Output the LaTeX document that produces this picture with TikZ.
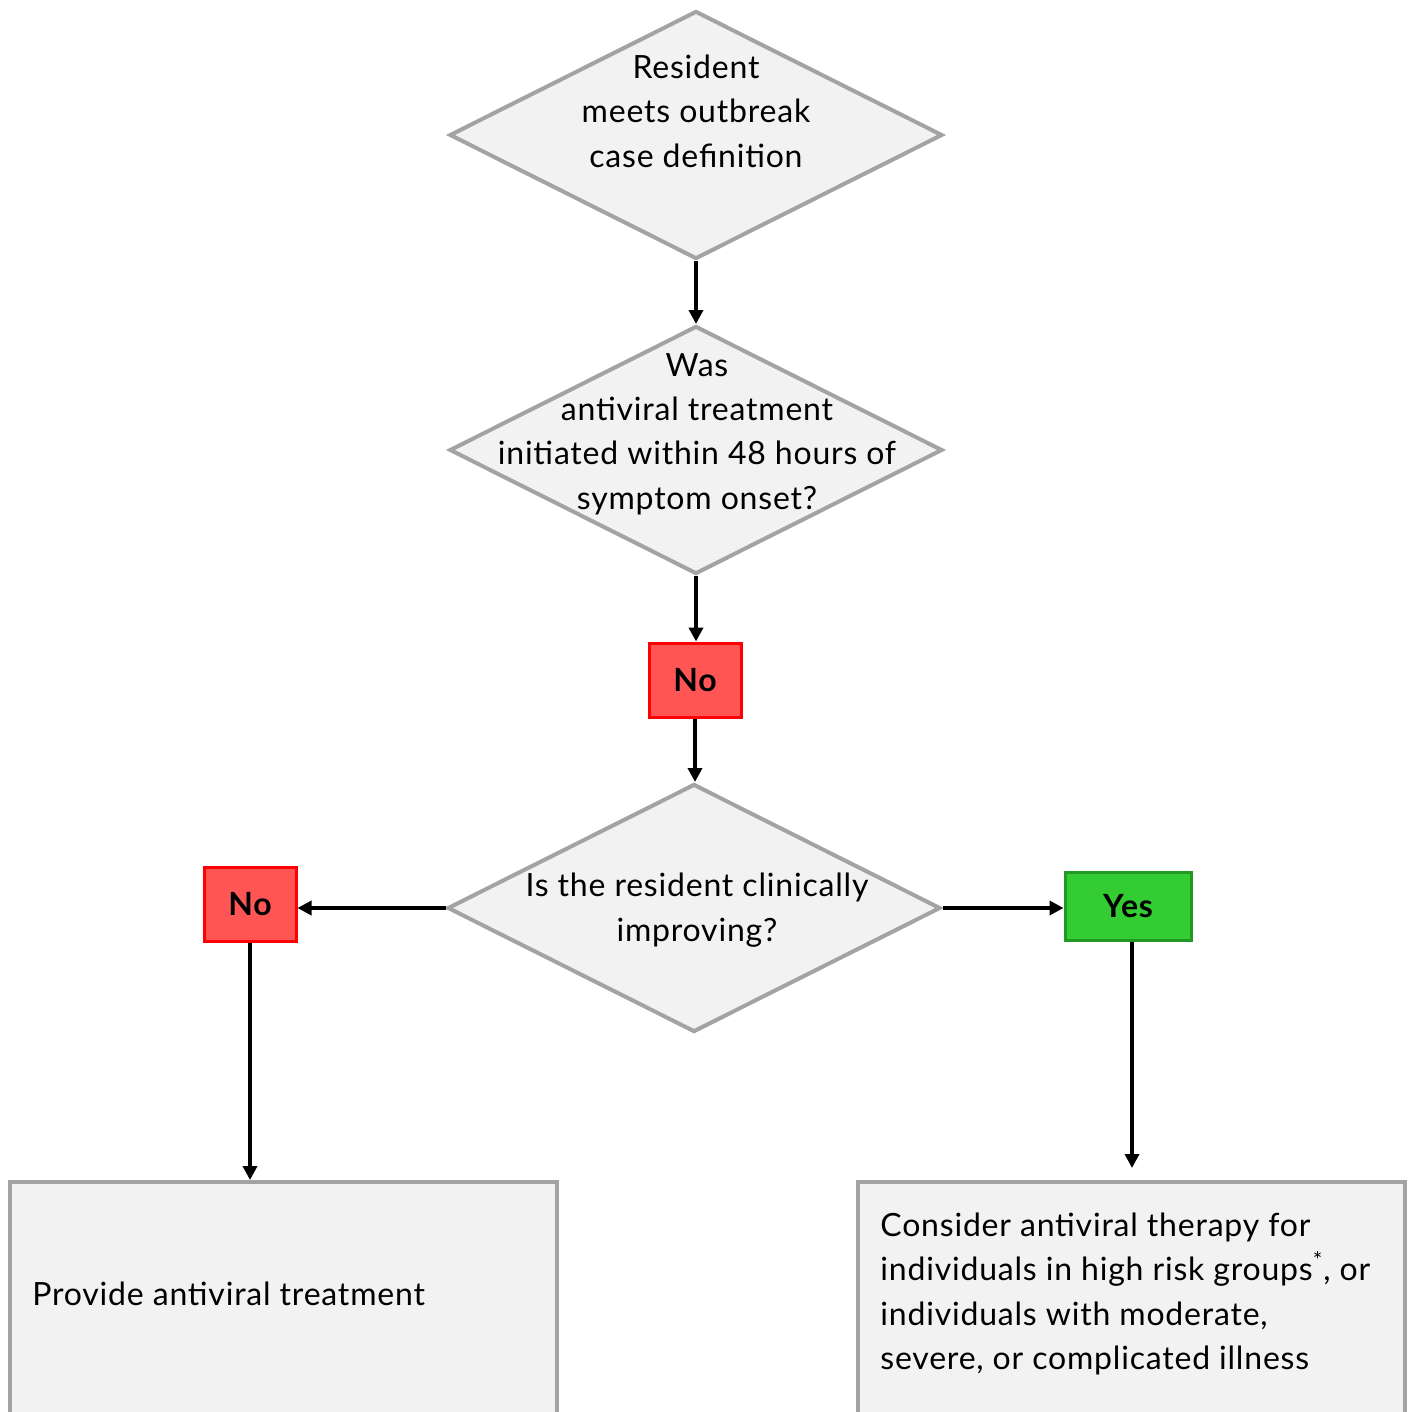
\documentclass[tikz,border=0pt]{standalone}
\usepackage{fontspec}
\setmainfont{Lato}
\usepackage{tikz}
\usetikzlibrary{arrows.meta,positioning,shapes.geometric,calc}
\definecolor{boxgray}{RGB}{242,242,242}
\definecolor{edgegray}{RGB}{163,163,163}
\definecolor{nofill}{RGB}{255,85,85}
\definecolor{noedge}{RGB}{255,0,0}
\definecolor{yesfill}{RGB}{51,204,51}
\definecolor{yesedge}{RGB}{34,153,34}
\newfontfamily\flowfont[LetterSpace=2.5]{Lato}

\begin{document}
\begin{tikzpicture}[x=0.5pt,y=-0.5pt,>={Triangle[length=7pt,width=7pt]}]
\tikzstyle{decision}=[diamond,draw=edgegray,line width=2pt,fill=boxgray,minimum width=246.5pt,minimum height=124pt,inner sep=0pt]
\tikzstyle{dtext}=[align=center,font=\flowfont\fontsize{16}{22.2}\selectfont,inner sep=0pt]
\tikzstyle{nobox}=[draw=noedge,line width=1.5pt,fill=nofill,minimum width=46pt,minimum height=37pt,font=\flowfont\fontsize{16}{18}\selectfont\bfseries]
\tikzstyle{yesbox}=[draw=yesedge,line width=1.5pt,fill=yesfill,minimum width=63pt,minimum height=34pt,font=\flowfont\fontsize{16}{18}\selectfont\bfseries]
\tikzstyle{action}=[draw=edgegray,line width=2pt,fill=boxgray,minimum width=273.5pt,minimum height=130pt,anchor=north,inner sep=0pt]
\tikzstyle{atext}=[align=left,anchor=west,font=\flowfont\fontsize{16}{22.2}\selectfont,inner sep=0pt]
\tikzstyle{arr}=[->,line width=2pt,black]

\clip (0,0) rectangle (1408,1412);
\fill[white] (0,0) rectangle (1408,1412);

% decisions
\node[decision] (d1) at (696,135) {};
\node[decision] (d2) at (696,450) {};
\node[decision] (d3) at (694,908) {};
\node[dtext] (t1) at (696,111) {Resident\\meets outbreak\\case definition};
\node[dtext] (t2) at (697,434) {Was\\antiviral treatment\\initiated within 48 hours of\\symptom onset?};
\node[dtext] (t3) at (697,910) {Is the resident clinically\\improving?};

% answers
\node[nobox] (no1) at (695,680) {No};
\node[nobox] (no2) at (250,904) {No};
\node[yesbox] (yes) at (1128,906) {Yes};

% actions
\node[action] (b1) at (283.5,1180) {};
\node[action] (b2) at (1131.5,1180) {};
\node[atext] (a1) at (32,1294) {Provide antiviral treatment};
\node[atext] (a2) at (880,1294) {Consider antiviral therapy for\\individuals in high risk groups\textsuperscript{*}, or\\individuals with moderate,\\severe, or complicated illness};

\draw[arr] (d1.south)--(d2.north);
\draw[arr] (d2.south)--(d2.south |- no1.north);
\draw[arr] (no1.south)--(no1.south |- d3.north);
\draw[arr] (d3.west)--(d3.west -| no2.east);
\draw[arr] (d3.east)--(d3.east -| yes.west);
\draw[arr] (no2.south)--(no2.south |- b1.north);
\draw[arr,shorten >=6pt] ([xshift=2pt]yes.south)--([xshift=2pt]yes.south |- b2.north);
\end{tikzpicture}
\end{document}
